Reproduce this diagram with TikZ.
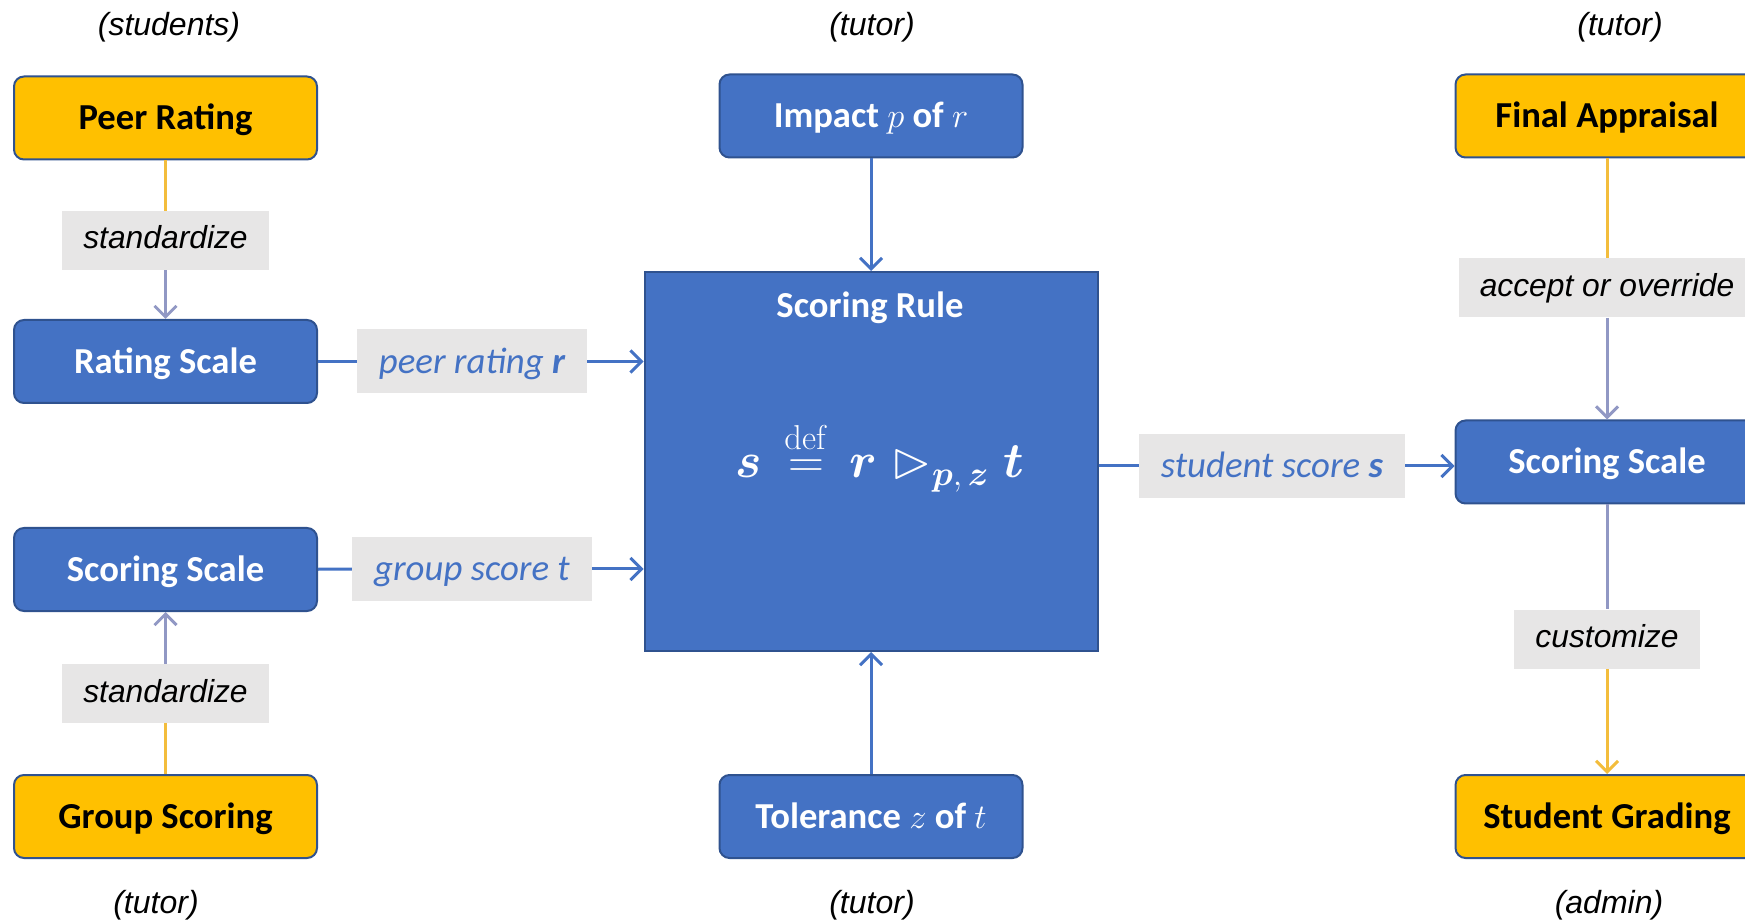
\documentclass[tikz,border=0pt]{standalone}
\usepackage{amssymb,amsmath}
\usepackage[no-math]{fontspec}
\setmainfont{Carlito}
\newfontfamily\arialfont{Liberation Sans}
\usetikzlibrary{arrows.meta,positioning,calc}
\definecolor{boxblue}{HTML}{4472C4}
\definecolor{edgeblue}{HTML}{2F528F}
\definecolor{boxgold}{HTML}{FFC000}
\definecolor{tagbg}{HTML}{E7E6E6}
\definecolor{goldfade}{HTML}{F3BD3C}
\definecolor{mauve}{HTML}{9198C4}
\tikzset{
  box/.style={draw=edgeblue, line width=1pt, rounded corners=5pt, inner sep=0pt,
    minimum width=151.5pt, minimum height=41.5pt, text height=16.5pt, text depth=4.5pt,
    font=\fontsize{18.3}{22}\selectfont\bfseries},
  bluebox/.style={box, fill=boxblue, text=white},
  goldbox/.style={box, fill=boxgold, text=black},
  tag/.style={fill=tagbg, inner xsep=10.5pt, minimum height=29.5pt,
    text height=11.9pt, text depth=3.4pt,
    font=\arialfont\itshape\fontsize{15.9}{19}\selectfont},
  flowtag/.style={fill=tagbg, inner xsep=11pt, minimum height=32pt, text=boxblue,
    text height=16.5pt, text depth=4.5pt,
    font=\itshape\fontsize{18.4}{22}\selectfont},
  role/.style={font=\arialfont\itshape\fontsize{16}{19}\selectfont},
}
\begin{document}
\begin{tikzpicture}[x=0.5pt, y=-0.5pt, >={Straight Barb[length=5.5pt,width=11pt]}]
\useasboundingbox (0,0) rectangle (1745,924);
\clip (0,0) rectangle (1745,924);
% left column
\node[role] (stu) at (169,27) {(students)};
\node[goldbox] (pr) at (165.5,118) {Peer Rating};
\node[tag] (std1) at (165.5,240.5) {standardize};
\node[bluebox] (rs) at (165.5,361.5) {Rating Scale};
\node[bluebox] (ssl) at (165.5,569.5) {Scoring Scale};
\node[tag] (std2) at (165.5,693.5) {standardize};
\node[goldbox] (gs) at (165.5,816.5) {Group Scoring};
\node[role] (gtu) at (156,905) {(tutor)};
% centre column
\node[role] (ptu) at (872,27) {(tutor)};
\node[bluebox] (imp) at (871,116) {Impact $p$ of $r$};
\node[draw=edgeblue, line width=1pt, fill=boxblue, minimum width=226.5pt,
  minimum height=189.5pt] (rule) at (871,461.5) {};
\node[text=white, font=\fontsize{18.3}{22}\selectfont\bfseries] (title) at (870,308) {Scoring Rule};
\node[text=white, font=\fontsize{26}{30}\selectfont] (formula) at (880,456)
  {$\boldsymbol{s}\,\stackrel{\mathrm{def}}{=}\,\boldsymbol{r}\;{\vartriangleright}_{\boldsymbol{p},\,\boldsymbol{z}}\;\boldsymbol{t}$};
\node[bluebox] (tol) at (871,816.5) {Tolerance $z$ of $t$};
\node[role] (ztu) at (872,905) {(tutor)};
\node[flowtag] (prl) at (472,361.5) {peer rating \textbf{r}};
\node[flowtag] (gsl) at (472,569) {group score t};
% right column
\node[role] (atu) at (1620,27) {(tutor)};
\node[goldbox] (fa) at (1607,116) {Final Appraisal};
\node[tag] (aoo) at (1607,288) {accept or override};
\node[bluebox] (ssr) at (1607,462) {Scoring Scale};
\node[tag] (cust) at (1607,639) {customize};
\node[goldbox] (sg) at (1607,816.5) {Student Grading};
\node[role] (adm) at (1609,905) {(admin)};
\node[flowtag] (sscore) at (1272,466) {student score \textbf{s}};
% flows into and out of the rule
\path[draw=boxblue, line width=1.5pt]
  (rs) edge (prl)
  (ssl) edge (gsl)
  (sscore -| rule.east) edge (sscore);
\path[->, draw=boxblue, line width=1.5pt]
  (imp) edge (rule)
  (tol) edge (rule)
  (prl) edge (prl -| rule.west)
  (gsl) edge (gsl -| rule.west)
  (sscore) edge (sscore -| ssr.west);
% scale conversions
\path[draw=goldfade, line width=1.5pt]
  (pr) edge (std1)
  (gs) edge (std2)
  (fa) edge (aoo);
\path[->, draw=mauve, line width=1.5pt]
  (std1) edge (rs)
  (std2) edge (ssl)
  (aoo) edge (ssr);
\path[draw=mauve, line width=1.5pt] (ssr) edge (cust);
\path[->, draw=goldfade, line width=1.5pt] (cust) edge (sg);
\end{tikzpicture}
\end{document}
